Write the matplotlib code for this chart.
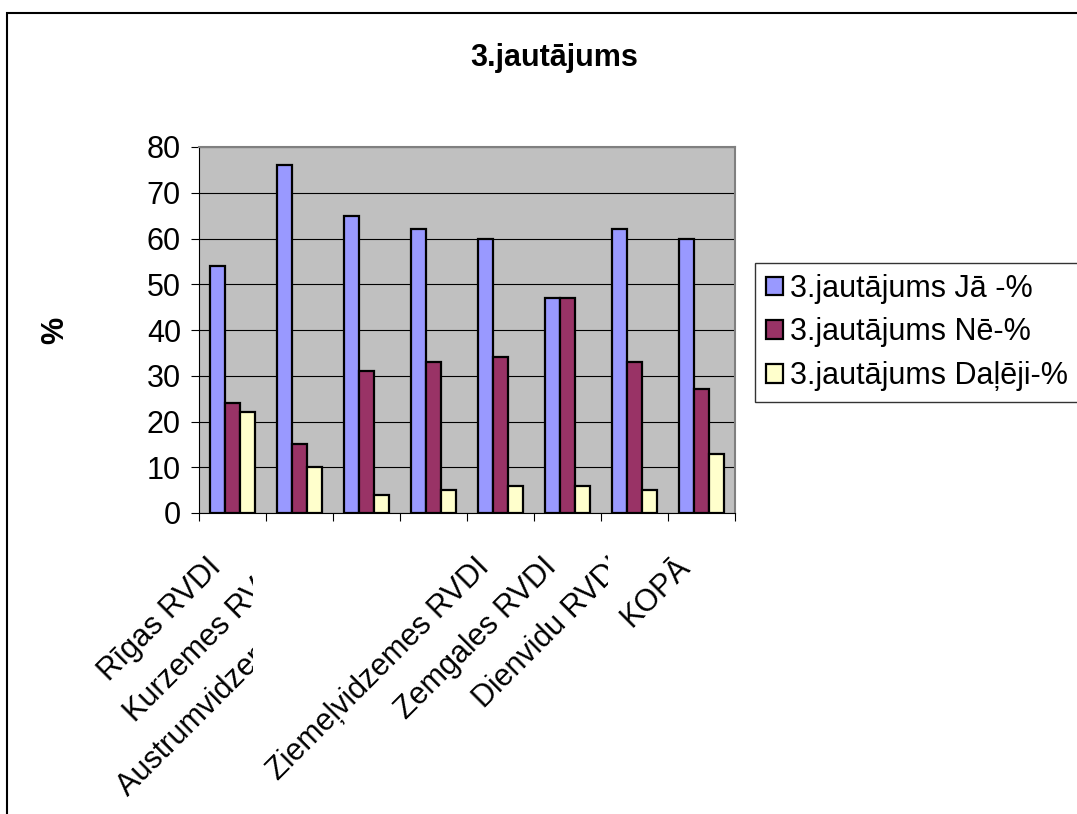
import matplotlib
matplotlib.use("Agg")
import matplotlib.pyplot as plt
import matplotlib.transforms as mtransforms
from matplotlib.patches import Rectangle
import numpy as np

plt.rcParams["font.family"] = ["Liberation Sans", "DejaVu Sans"]

categories = ["Rīgas RVDI", "Kurzemes RVDI", "Austrumvidzemes RVDI", "Latgales RVDI",
              "Ziemeļvidzemes RVDI", "Zemgales RVDI", "Dienvidu RVDI", "KOPĀ"]
ja = [54, 76, 65, 62, 60, 47, 62, 60]
ne = [24, 15, 31, 33, 34, 47, 33, 27]
daleji = [22, 10, 4, 5, 6, 6, 5, 13]
series_names = ["3.jautājums Jā -%", "3.jautājums Nē-%", "3.jautājums Daļēji-%"]
colors = ["#9999FF", "#993366", "#FFFFCC"]
yticks = [0, 10, 20, 30, 40, 50, 60, 70, 80]

# excel cut off some of the rotated labels, pixel x where each one is clipped
label_clip_px = [None, 253, 253, 253, None, None, 608, None]

W, H = 1077, 814
fig = plt.figure(figsize=(W / 100, H / 100), dpi=100)
ax = fig.add_axes([199 / W, 1 - 513 / H, (735 - 199) / W, (513 - 147) / H])
ax.set_facecolor("#C0C0C0")

x = np.arange(len(categories))
bw = 0.224
handles = []
for k, vals in enumerate([ja, ne, daleji]):
    b = ax.bar(x + (k - 1) * bw, vals, bw, color=colors[k], edgecolor="black",
               linewidth=1.6, zorder=3, label=series_names[k])
    handles.append(b)

ax.set_xlim(-0.5, len(categories) - 0.5)
ax.set_ylim(0, 80)
ax.set_yticks(yticks)
ax.yaxis.grid(True, color="black", linewidth=0.8, zorder=1)
ax.set_axisbelow(True)
ax.set_xticks(np.arange(len(categories) + 1) - 0.5)
ax.set_xticklabels([])
ax.tick_params(axis="y", direction="out", length=6, width=0.8, labelsize=22, pad=7)
ax.tick_params(axis="x", direction="out", length=6, width=0.8)
for s in ["top", "right"]:
    ax.spines[s].set_color("#808080")
    ax.spines[s].set_linewidth(1.5)
for s in ["left", "bottom"]:
    ax.spines[s].set_color("black")
    ax.spines[s].set_linewidth(0.8)

trans = mtransforms.blended_transform_factory(ax.transData, ax.transAxes)
trans = mtransforms.offset_copy(trans, fig=fig, x=-5, y=-39, units="dots")
for i, lab in enumerate(categories):
    t = ax.text(x[i], 0, lab, transform=trans, ha="right", va="top",
                rotation=45, fontsize=22, clip_on=False)
    if label_clip_px[i] is not None:
        r = Rectangle((0, 0), label_clip_px[i] / W, 1, transform=fig.transFigure)
        t.set_clip_on(True)
        t.set_clip_path(r)

fig.text(554 / W, 1 - 58 / H, "3.jautājums", ha="center", va="center",
         fontsize=22, fontweight="bold")
fig.text(55 / W, 1 - 330 / H, "%", ha="center", va="center", rotation=90,
         fontsize=22, fontweight="bold")

leg = fig.legend(handles=handles, loc="upper left",
                 bbox_to_anchor=(755 / W, 1 - 263 / H), bbox_transform=fig.transFigure,
                 borderaxespad=0, fontsize=22, frameon=True, fancybox=False,
                 handlelength=0.55, handleheight=0.55, handletextpad=0.25,
                 labelspacing=0.45, borderpad=0.35)
leg.get_frame().set_edgecolor("black")
leg.get_frame().set_linewidth(1.0)

fig.patches.append(Rectangle((7 / W, -0.1), 2, 1 - 13 / H + 0.1, fill=False,
                             edgecolor="black", linewidth=1.5,
                             transform=fig.transFigure, clip_on=False))

fig.savefig("out.png", dpi=100)
